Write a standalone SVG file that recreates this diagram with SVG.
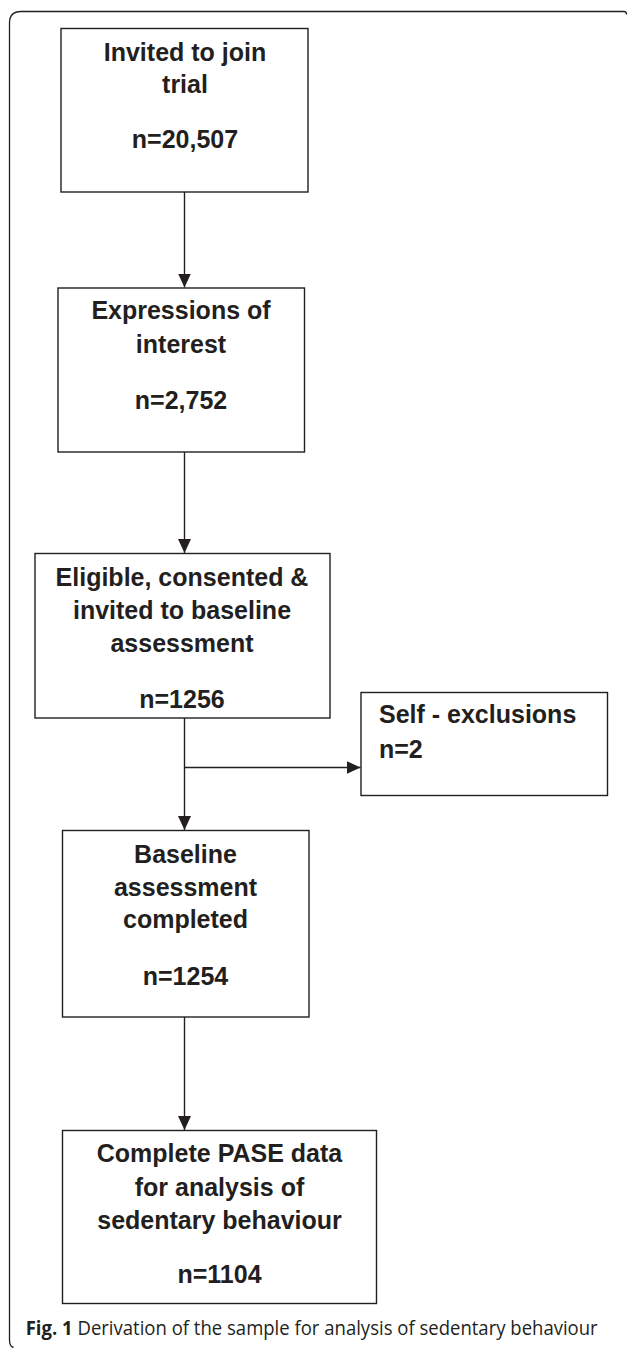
<svg xmlns="http://www.w3.org/2000/svg" width="629" height="1348" viewBox="0 0 629 1348">
<style>
.box{fill:#fff;stroke:#231f20;stroke-width:1.4}
.t{font-family:"Liberation Sans",Arial,Helvetica,sans-serif;font-weight:bold;font-size:25px;fill:#231f20;text-anchor:middle}
.tl{font-family:"Liberation Sans",Arial,Helvetica,sans-serif;font-weight:bold;font-size:25px;fill:#231f20}
.ln{fill:none;stroke:#231f20;stroke-width:1.4}
.frame{fill:none;stroke:#231f20;stroke-width:1.3}
.cap{font-family:"Open Sans","Liberation Sans",sans-serif;font-size:19.5px;fill:#231f20}
</style>
<defs>
<marker id="ah" markerWidth="14" markerHeight="14" refX="14" refY="7" orient="auto" markerUnits="userSpaceOnUse">
<path d="M0,0.5 L14,7 L0,13.5 Z" fill="#231f20"/>
</marker>
</defs>
<path class="frame" d="M9.5,1340 L9.5,23 Q9.5,11.5 21,11.5 L624,11.5 Q626.5,11.5 626.5,14.5"/>
<path class="frame" d="M9.5,1340 Q9.5,1346.5 13.5,1347.5"/>
<g id="connectors">
<line class="ln" x1="184.5" y1="192" x2="184.5" y2="287.5" marker-end="url(#ah)"/>
<line class="ln" x1="184.5" y1="452" x2="184.5" y2="553" marker-end="url(#ah)"/>
<line class="ln" x1="184.5" y1="718" x2="184.5" y2="830" marker-end="url(#ah)"/>
<line class="ln" x1="184.5" y1="767.5" x2="360.5" y2="767.5" marker-end="url(#ah)"/>
<line class="ln" x1="184.5" y1="1017" x2="184.5" y2="1130" marker-end="url(#ah)"/>
</g>
<g id="n1">
<rect class="box" x="61" y="28.5" width="247" height="163.5"/>
<text class="t" x="185" y="61">Invited to join</text>
<text class="t" x="185" y="93">trial</text>
<text class="t" x="185" y="148">n=20,507</text>
</g>
<g id="n2">
<rect class="box" x="58" y="288" width="246.5" height="164"/>
<text class="t" x="181" y="319.3">Expressions of</text>
<text class="t" x="181" y="352.7">interest</text>
<text class="t" x="181" y="409.3">n=2,752</text>
</g>
<g id="n3">
<rect class="box" x="35" y="553.5" width="295" height="164.5"/>
<text class="t" x="182" y="585.7">Eligible, consented &amp;</text>
<text class="t" x="182" y="619">invited to baseline</text>
<text class="t" x="182" y="651.7">assessment</text>
<text class="t" x="182" y="708.3">n=1256</text>
</g>
<g id="n4">
<rect class="box" x="361" y="692.5" width="246.5" height="103"/>
<text class="tl" x="379" y="723.3">Self - exclusions</text>
<text class="tl" x="379" y="758.3">n=2</text>
</g>
<g id="n5">
<rect class="box" x="62.5" y="830.5" width="246.5" height="186.5"/>
<text class="t" x="185.5" y="862.7">Baseline</text>
<text class="t" x="185.5" y="896">assessment</text>
<text class="t" x="185.5" y="928.3">completed</text>
<text class="t" x="185.5" y="985">n=1254</text>
</g>
<g id="n6">
<rect class="box" x="62.5" y="1130.5" width="314" height="173"/>
<text class="t" x="219.5" y="1162.3">Complete PASE data</text>
<text class="t" x="219.5" y="1195.7">for analysis of</text>
<text class="t" x="219.5" y="1228.7">sedentary behaviour</text>
<text class="t" x="219.5" y="1283.3">n=1104</text>
</g>
<text class="cap" x="25.7" y="1335" textLength="572" lengthAdjust="spacingAndGlyphs"><tspan font-weight="bold">Fig. 1</tspan> Derivation of the sample for analysis of sedentary behaviour</text>
</svg>
